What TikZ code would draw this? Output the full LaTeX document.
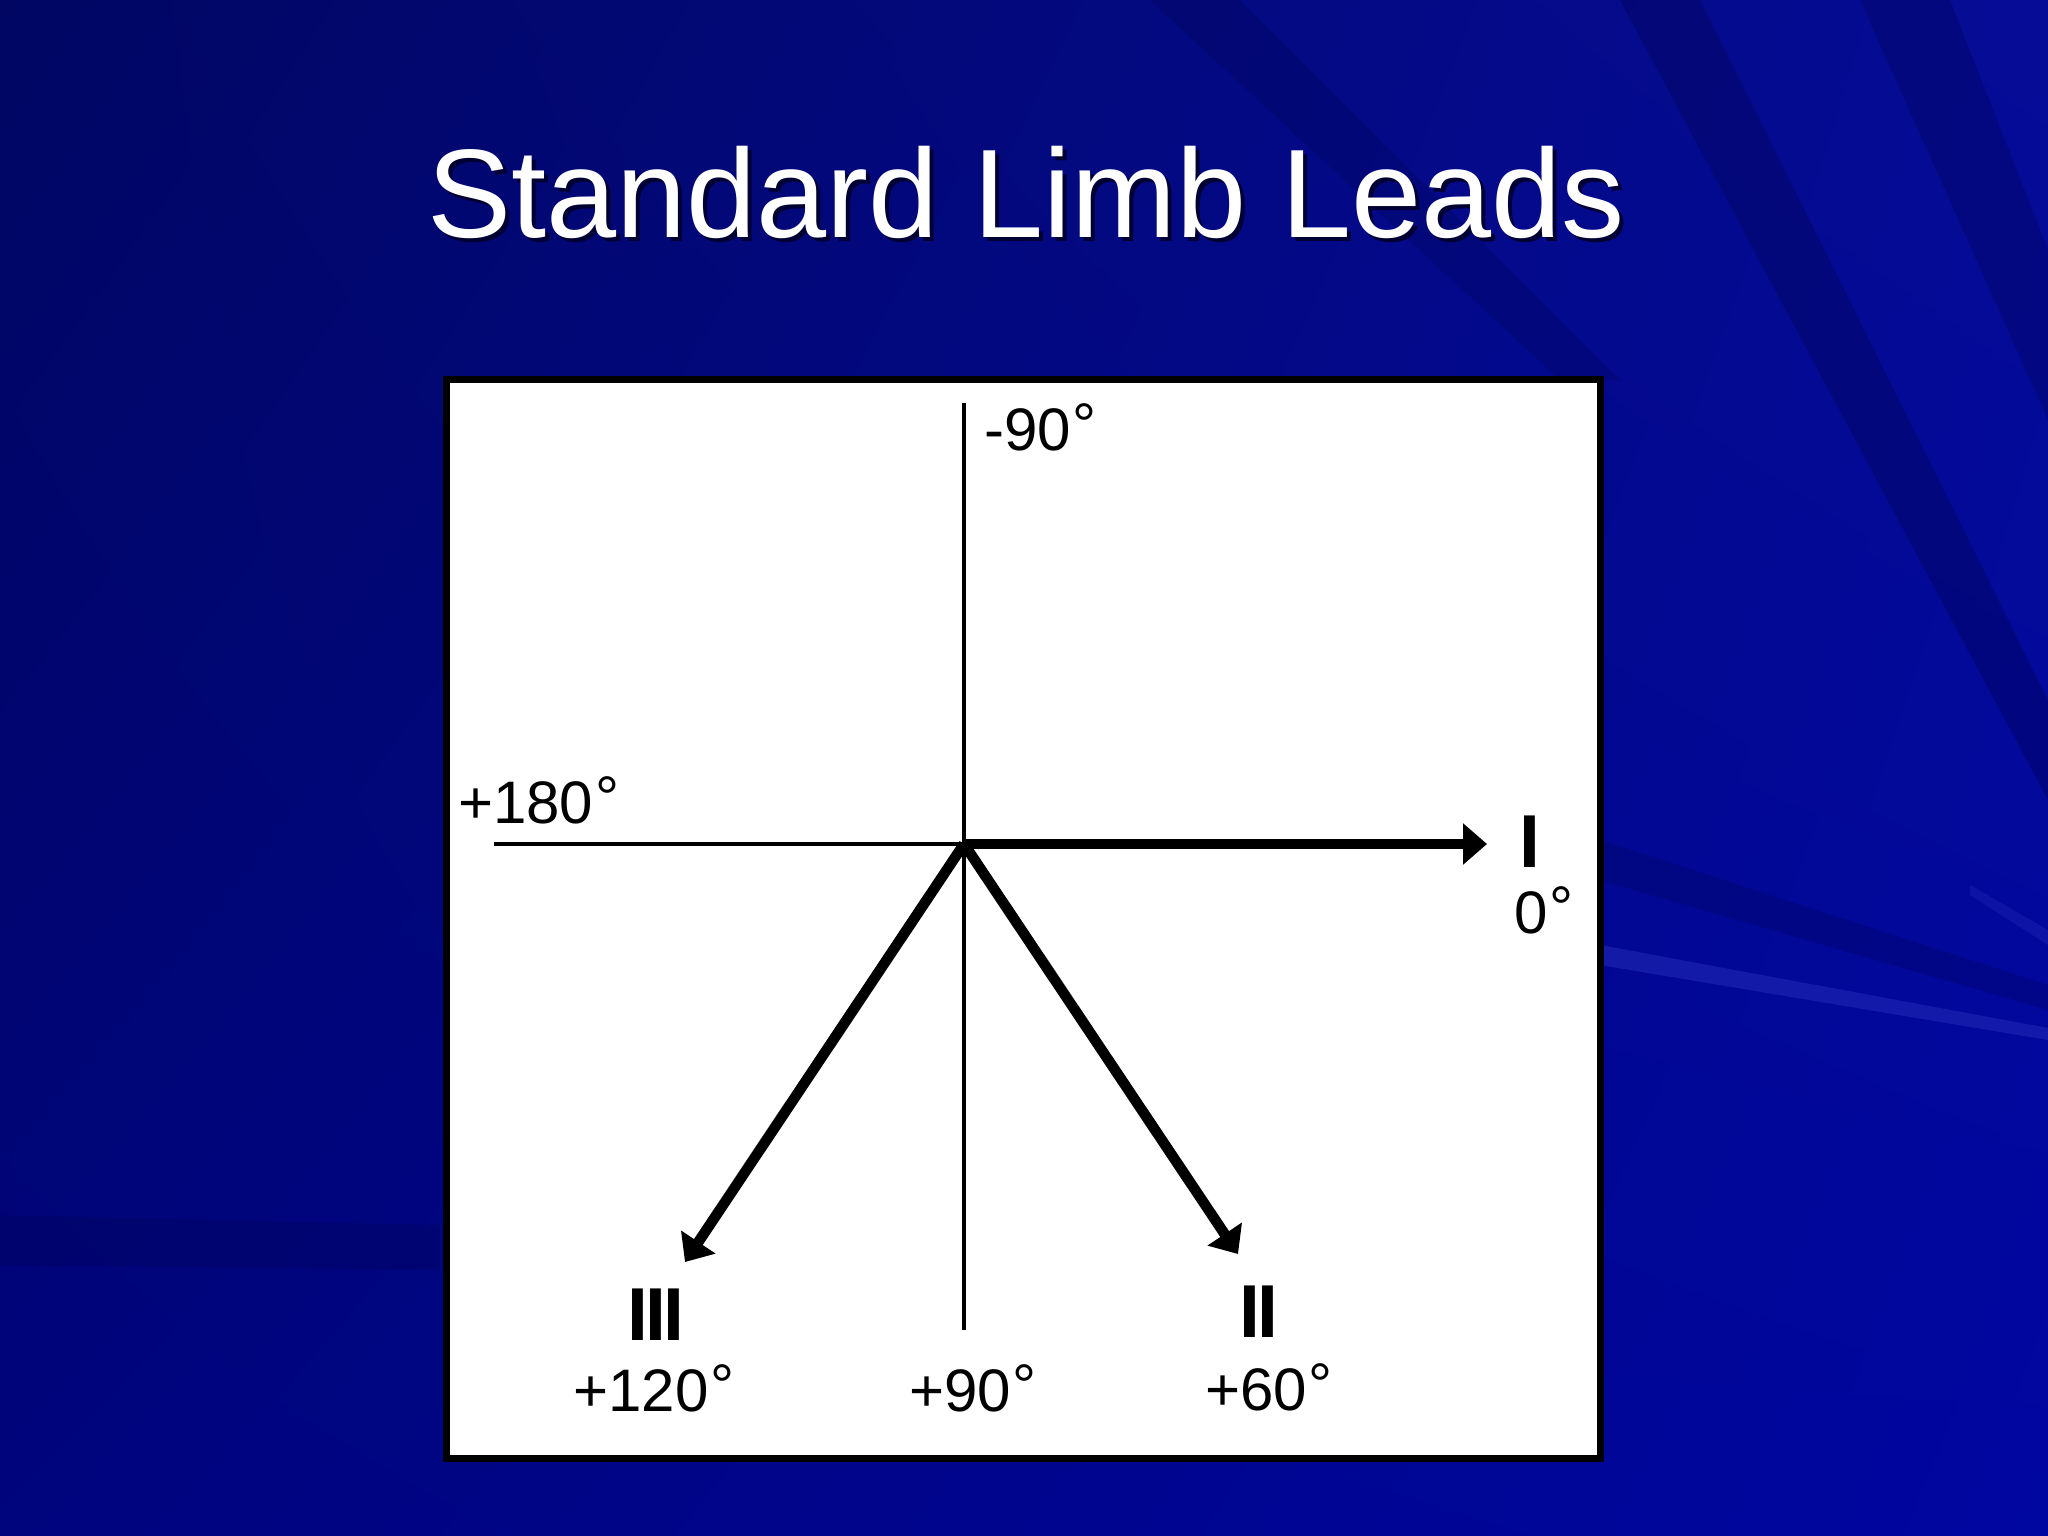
\documentclass[tikz,border=0pt]{standalone}
\usepackage{fontspec}
\setmainfont{Liberation Sans}
\usetikzlibrary{arrows.meta,shadings}
\definecolor{bgUL}{RGB}{0,6,98}
\definecolor{bgUR}{RGB}{6,12,150}
\definecolor{bgLL}{RGB}{0,4,125}
\definecolor{bgLR}{RGB}{0,6,160}
\definecolor{streakdark}{RGB}{0,2,80}
\definecolor{streaklight}{RGB}{40,50,190}
\tikzset{
  axis/.style={line width=3.5pt, black},
  lead/.style={line width=10.5pt, black, -{Triangle[length=24pt,width=40pt]}},
  deg/.style={font=\fontsize{60}{60}\selectfont, inner sep=0pt},
  roman/.style={font=\fontsize{75}{75}\selectfont\bfseries, inner sep=0pt},
  frame/.style={draw=black, line width=7pt, fill=white, inner sep=0pt},
}
\newcommand{\dg}{\kern2pt\raisebox{5pt}{°}}
\begin{document}
\begin{tikzpicture}[x=1pt,y=-1pt]
\useasboundingbox (0,0) rectangle (2048,1536);
% background
\shade[upper left=bgUL, upper right=bgUR, lower left=bgLL, lower right=bgLR] (0,0) rectangle (2048,1536);
% streaks
\fill[streakdark, opacity=0.35] (1620,0) -- (1700,0) -- (2048,700) -- (2048,800) -- cycle;
\fill[streakdark, opacity=0.30] (1860,0) -- (1950,0) -- (2048,250) -- (2048,420) -- cycle;
\fill[streakdark, opacity=0.25] (1150,0) -- (1240,0) -- (1620,380) -- (1560,380) -- cycle;
\fill[streakdark, opacity=0.25] (1600,840) -- (2048,985) -- (2048,1010) -- (1600,880) -- cycle;
\fill[streaklight, opacity=0.45] (1600,945) -- (2048,1028) -- (2048,1040) -- (1600,965) -- cycle;
\fill[streaklight, opacity=0.30] (1970,885) -- (2048,930) -- (2048,945) -- (1970,895) -- cycle;
\fill[streakdark, opacity=0.25] (0,1215) -- (440,1225) -- (440,1270) -- (0,1265) -- cycle;
% title
\node[anchor=base, text=black!80!blue, font=\fontsize{126}{126}\selectfont, inner sep=0pt] (titleshadow) at (1030,241) {Standard Limb Leads};
\node[anchor=base, text=white, font=\fontsize{126}{126}\selectfont, inner sep=0pt] (title) at (1026,237) {Standard Limb Leads};
% frame
\node[frame, minimum width=1154pt, minimum height=1079pt] (box) at (1023,918.5) {};
% geometry
\coordinate (O) at (964,844);
\coordinate (top) at (964,403);
\coordinate (bot) at (964,1330);
\coordinate (left) at (494,844);
\coordinate (tipI) at (1487,844);
\coordinate (tipII) at (1238,1254);
\coordinate (tipIII) at (685,1262);
\draw[axis] (top) -- (bot);
\draw[axis] (left) -- (O);
\draw[lead] (O) -- (tipI);
\draw[lead] (O) -- (tipII);
\draw[lead] (O) -- (tipIII);
% labels
\node[deg, anchor=base west] (m90) at (984,450) {-90\dg};
\node[deg, anchor=base west] (p180) at (458,823) {+180\dg};
\node[roman, anchor=base] (lI) at (1530,867) {I};
\node[deg, anchor=base west] (d0) at (1514,933) {0\dg};
\node[roman, anchor=base] (lIII) at (656,1340) {I\kern-3pt I\kern-3pt I};
\node[roman, anchor=base] (lII) at (1259,1337) {I\kern-3pt I};
\node[deg, anchor=base] (p120) at (654,1411) {+120\dg};
\node[deg, anchor=base] (p90) at (973,1411) {+90\dg};
\node[deg, anchor=base] (p60) at (1269,1410) {+60\dg};
\end{tikzpicture}
\end{document}
